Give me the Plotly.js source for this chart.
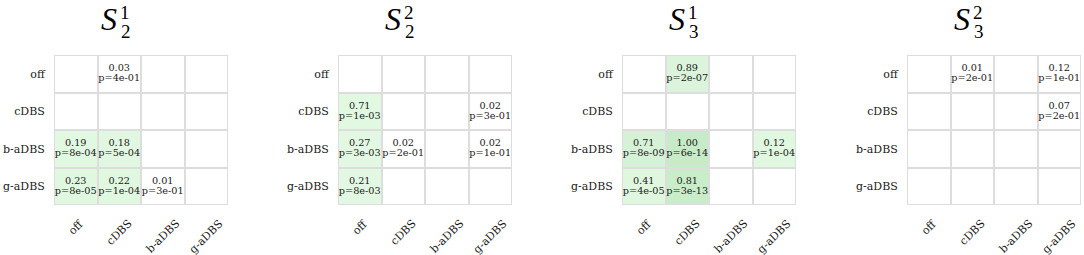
<!DOCTYPE html>
<html>
<head>
<meta charset="utf-8">
<script src="https://cdn.plot.ly/plotly-3.0.1.min.js"></script>
<style>html,body{margin:0;padding:0;background:#fff;}#chart{width:1084px;height:255px;}</style>
</head>
<body>
<div id="chart"></div>
<script>
// Categories (rows = y, columns = x)
const categories = ['off', 'cDBS', 'b-aDBS', 'g-aDBS'];

// Panel titles: S with subscript / superscript
const titleSub = ['2', '2', '3', '3'];
const titleSup = ['1', '2', '1', '2'];

// Effect values per panel (null = empty cell)
const values_S2_1 = [
  [null, 0.03, null, null],
  [null, null, null, null],
  [0.19, 0.18, null, null],
  [0.23, 0.22, 0.01, null]
];
const pvals_S2_1 = [
  [null, 4e-1, null, null],
  [null, null, null, null],
  [8e-4, 5e-4, null, null],
  [8e-5, 1e-4, 3e-1, null]
];

const values_S2_2 = [
  [null, null, null, null],
  [0.71, null, null, 0.02],
  [0.27, 0.02, null, 0.02],
  [0.21, null, null, null]
];
const pvals_S2_2 = [
  [null, null, null, null],
  [1e-3, null, null, 3e-1],
  [3e-3, 2e-1, null, 1e-1],
  [8e-3, null, null, null]
];

const values_S3_1 = [
  [null, 0.89, null, null],
  [null, null, null, null],
  [0.71, 1.00, null, 0.12],
  [0.41, 0.81, null, null]
];
const pvals_S3_1 = [
  [null, 2e-7, null, null],
  [null, null, null, null],
  [8e-9, 6e-14, null, 1e-4],
  [4e-5, 3e-13, null, null]
];

const values_S3_2 = [
  [null, 0.01, null, 0.12],
  [null, null, null, 0.07],
  [null, null, null, null],
  [null, null, null, null]
];
const pvals_S3_2 = [
  [null, 2e-1, null, 1e-1],
  [null, null, null, 2e-1],
  [null, null, null, null],
  [null, null, null, null]
];

const panelValues = [values_S2_1, values_S2_2, values_S3_1, values_S3_2];
const panelPvals = [pvals_S2_1, pvals_S2_2, pvals_S3_1, pvals_S3_2];
const alpha = 0.05;

function fmtP(p) {
  const parts = p.toExponential(0).split('e');
  const e = parseInt(parts[1], 10);
  return 'p=' + parts[0] + 'e' + (e < 0 ? '-' : '+') + String(Math.abs(e)).padStart(2, '0');
}

const W = 1084, H = 255;
const lefts = [54, 338, 622, 907];
const gridW = 174;
const gridTop = 55, gridBottom = 205;
const px = x => x / W;
const py = y => 1 - y / H;

const serif = 'DejaVu Serif';
const txtColor = '#1a1a1a';
// colour = significance strength (-log10 p), white when not significant
const zmax = 14;
const colorscale = [
  [0, '#ffffff'], [0.004, '#ffffff'], [0.005, '#e6fae6'], [0.45, '#dcf5dc'], [0.8, '#cdeecd'], [1, '#c5e9c5']
];

const data = [];
const layout = {
  width: W, height: H,
  margin: {l: 0, r: 0, t: 0, b: 0},
  paper_bgcolor: '#ffffff',
  plot_bgcolor: '#dddddd',
  showlegend: false,
  annotations: []
};

for (let k = 0; k < 4; k++) {
  const vals = panelValues[k], ps = panelPvals[k];
  const z = vals.map((row, i) => row.map((v, j) => (v !== null && ps[i][j] < alpha) ? -Math.log10(ps[i][j]) : 0));
  const sfx = k === 0 ? '' : String(k + 1);
  const xa = 'x' + sfx, ya = 'y' + sfx;
  data.push({
    type: 'heatmap',
    x: categories, y: categories, z: z,
    colorscale: colorscale, zmin: 0, zmax: zmax,
    showscale: false, xgap: 2, ygap: 2,
    hoverinfo: 'skip',
    xaxis: xa, yaxis: ya
  });
  // cell texts: value line above the cell centre, p-value line below
  const tx = [], ty = [], tv = [], tp = [];
  vals.forEach((row, i) => row.forEach((v, j) => {
    if (v === null) return;
    tx.push(categories[j]); ty.push(categories[i]);
    tv.push(v.toFixed(2)); tp.push(fmtP(ps[i][j]));
  }));
  data.push({
    type: 'scatter', mode: 'text', x: tx, y: ty, text: tv,
    textposition: 'top center',
    textfont: {family: serif, size: 9.7, color: txtColor},
    hoverinfo: 'skip', cliponaxis: false, xaxis: xa, yaxis: ya
  });
  data.push({
    type: 'scatter', mode: 'text', x: tx, y: ty, text: tp,
    textposition: 'bottom center',
    textfont: {family: serif, size: 9.7, color: txtColor},
    hoverinfo: 'skip', cliponaxis: false, xaxis: xa, yaxis: ya
  });
  const L = lefts[k];
  layout['xaxis' + sfx] = {
    domain: [px(L), px(L + gridW)], anchor: ya,
    type: 'category', categoryarray: categories, range: [-0.5, 3.5],
    showticklabels: false, showgrid: false, zeroline: false, showline: false, ticks: '',
    fixedrange: true
  };
  layout['yaxis' + sfx] = {
    domain: [py(gridBottom), py(gridTop)], anchor: xa,
    type: 'category', categoryarray: categories, range: [3.5, -0.5],
    showgrid: false, zeroline: false, showline: false,
    ticks: 'outside', ticklen: 6, tickcolor: 'rgba(0,0,0,0)',
    tickfont: {family: serif, size: 11, color: txtColor},
    fixedrange: true
  };
  // rotated column labels
  categories.forEach(c => {
    layout.annotations.push({
      xref: xa, yref: 'paper', x: c, y: py(214),
      xanchor: 'center', yanchor: 'top', textangle: -45, showarrow: false,
      text: c, font: {family: serif, size: 11, color: txtColor}
    });
  });
  // titles: S with sub/superscripts
  layout.annotations.push({
    xref: 'paper', yref: 'paper', x: px(L + 55), y: py(19), xanchor: 'center', yanchor: 'middle',
    showarrow: false, borderpad: 0, text: '<i>S</i>', font: {family: 'Liberation Serif', size: 32, color: '#000'}
  });
  layout.annotations.push({
    xref: 'paper', yref: 'paper', x: px(L + 71), y: py(12.5), xanchor: 'center', yanchor: 'middle',
    showarrow: false, borderpad: 0, text: titleSup[k], font: {family: 'Liberation Serif', size: 19, color: '#000'}
  });
  layout.annotations.push({
    xref: 'paper', yref: 'paper', x: px(L + 72), y: py(31.5), xanchor: 'center', yanchor: 'middle',
    showarrow: false, borderpad: 0, text: titleSub[k], font: {family: 'Liberation Serif', size: 19, color: '#000'}
  });
}

Plotly.newPlot('chart', data, layout, {displayModeBar: false, staticPlot: true});
</script>
</body>
</html>
